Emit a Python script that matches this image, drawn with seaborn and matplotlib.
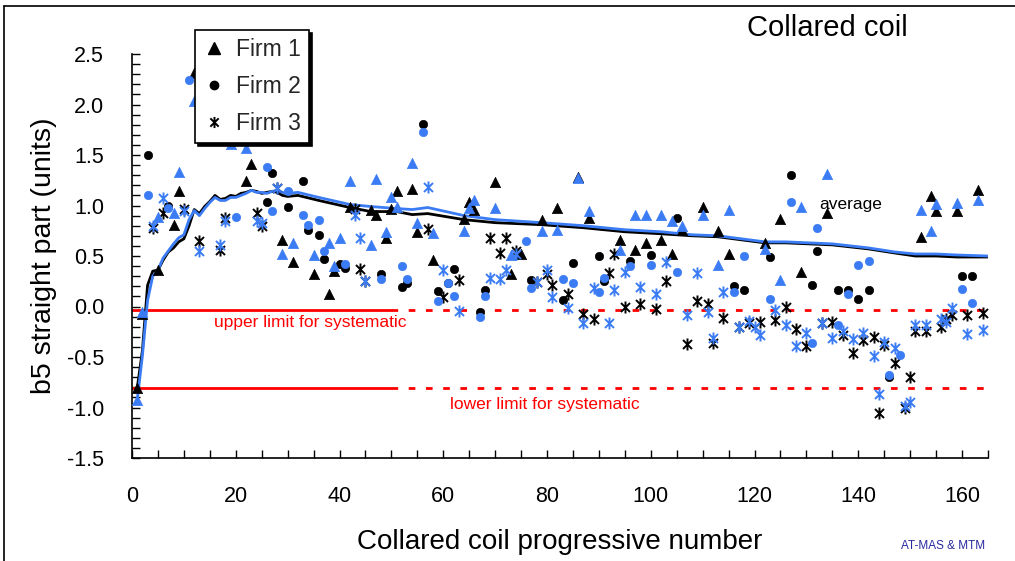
import numpy as np
import matplotlib
matplotlib.use("Agg")
import matplotlib.pyplot as plt
import seaborn as sns
from matplotlib.path import Path
from matplotlib.lines import Line2D
from matplotlib.ticker import MultipleLocator, FormatStrFormatter

sns.set_theme(style="white")
plt.rcParams['font.family'] = ['Liberation Sans', 'DejaVu Sans']
plt.rcParams['axes.unicode_minus'] = False

nan = np.nan

# ---- Firm 1 (triangles): coil number, first and second measurement of b5 ----
firm1_coil = [1, 2, 5, 8, 9, 12, 15, 19, 22, 23, 29, 31, 35, 38, 39, 40, 42, 46, 47, 49,
              50, 51, 54, 55, 58, 64, 65, 66, 70, 73, 75, 79, 82, 86, 88, 94, 97, 99, 102, 104,
              106, 110, 113, 115, 122, 125, 129, 134, 152, 154, 155, 159, 163]
firm1_black = [-0.81, -0.07, 0.36, 0.81, 1.14, 2.31, 1.66, nan, 1.24, 1.41, 0.66, 0.44, 0.32, 0.12, 0.35, nan, 0.99, 0.96, 0.91, 0.68,
               0.97, 1.14, 1.16, 0.74, 0.46, 0.87, 1.03, 0.96, 1.23, 0.32, 0.52, 0.86, 0.98, 1.28, 0.88, 0.66, 0.56, 0.63, 0.66, 0.52,
               0.76, 0.99, 0.75, 0.52, 0.63, 0.87, 0.34, 0.93, 0.69, 1.09, 0.95, 0.95, 1.15]
firm1_blue = [-0.93, -0.05, 0.89, 0.93, 1.33, 2.03, nan, 1.61, 1.57, nan, 0.52, 0.63, 0.51, 0.63, 0.40, 0.68, 1.24, 0.61, 1.26, 0.74,
              1.08, 0.99, 1.42, 0.83, 0.73, 0.75, 0.98, 1.05, 0.98, 0.51, nan, 0.75, 0.76, 1.27, 0.95, 0.56, 0.91, 0.91, 0.91, 0.85,
              0.80, 0.91, 0.41, 0.96, 0.57, 0.26, 0.99, 1.31, 0.96, 0.75, 1.01, 1.02, 1.05]

# ---- Firm 2 (circles) ----
firm2_coil = [3, 7, 11, 20, 26, 27, 30, 33, 34, 36, 37, 40, 41, 48, 52, 53, 56, 59, 61, 62,
              67, 68, 76, 77, 83, 85, 90, 91, 96, 100, 105, 116, 118, 123, 127, 131, 132, 136, 138, 140,
              142, 146, 148, 160, 162]
firm2_black = [1.50, 1.00, nan, nan, 1.03, 1.32, 0.99, 1.24, 0.76, 0.71, 0.47, 0.42, 0.38, 0.32, 0.19, 0.23, 1.81, 0.15, 0.23, 0.37,
               -0.05, 0.16, nan, 0.26, 0.06, 0.43, 0.50, 0.25, 0.45, 0.51, 0.88, 0.20, 0.16, 0.49, 1.30, 0.21, 0.55, 0.16, 0.16, 0.07,
               0.16, -0.70, nan, 0.30, 0.30]
firm2_blue = [1.10, 0.98, 2.24, 0.89, 1.38, 0.95, 1.14, 0.91, 0.81, 0.86, 0.55, nan, 0.42, 0.27, 0.40, 0.27, 1.73, 0.05, 0.23, 0.10,
              -0.10, 0.10, 0.65, 0.18, 0.27, 0.23, 0.14, 0.28, 0.40, 0.41, 0.34, 0.14, 0.50, 0.07, 1.03, -0.36, 0.78, -0.18, 0.12, 0.41,
              0.45, -0.68, -0.48, 0.17, 0.03]

# ---- Firm 3 (stars) ----
firm3_coil = [4, 6, 10, 13, 17, 18, 24, 25, 28, 43, 44, 45, 57, 60, 63, 69, 71, 72, 74, 78,
              80, 81, 84, 87, 89, 92, 93, 95, 98, 101, 103, 107, 109, 111, 112, 114, 117, 119, 120, 121,
              124, 126, 128, 130, 133, 135, 137, 139, 141, 143, 144, 145, 147, 149, 150, 151, 153, 156, 157, 158,
              161, 164]
firm3_black = [0.78, 0.93, 0.97, 0.65, 0.56, 0.88, 0.93, 0.80, 1.17, 0.97, 0.37, 0.25, 0.77, 0.09, 0.26, 0.68, 0.53, 0.68, 0.55, 0.24,
               0.32, 0.21, 0.12, -0.07, -0.12, 0.33, 0.52, 0.00, 0.02, -0.02, 0.25, -0.37, 0.05, 0.02, -0.36, -0.11, -0.20, -0.16, nan, -0.15,
               -0.13, 0.00, -0.22, -0.39, -0.16, -0.15, -0.28, -0.46, -0.33, -0.30, -1.05, -0.38, -0.56, -1.00, -0.70, -0.24, -0.24, -0.20, -0.12, -0.08,
               -0.08, -0.06]
firm3_blue = [0.80, 1.07, 0.95, 0.55, 0.61, 0.85, 0.85, 0.83, 1.17, 0.91, 0.68, 0.25, 1.18, 0.36, -0.04, 0.28, 0.27, 0.36, 0.52, 0.24,
              0.36, 0.09, -0.01, -0.16, 0.18, -0.16, 0.16, 0.34, 0.19, 0.12, 0.44, -0.08, 0.33, -0.05, -0.31, 0.14, -0.20, -0.14, -0.20, -0.28,
              -0.03, -0.18, -0.39, -0.26, -0.16, -0.31, -0.24, -0.32, -0.26, -0.49, -0.87, -0.35, -0.41, -0.99, -0.95, -0.18, -0.18, -0.12, -0.15, -0.01,
              -0.27, -0.23]

# ---- running average of all coils, both measurements ----
avg_coil = [1, 2, 3, 4, 5, 6, 7, 8, 9, 10, 11, 12, 13, 14, 15, 16, 17, 18, 19, 20,
            21, 22, 23, 24, 25, 26, 27, 28, 29, 30, 32, 36, 42, 46, 51, 54, 57, 64, 70, 79,
            87, 95, 102, 108, 113, 122, 126, 135, 142, 147, 151, 155, 159, 165]
avg_black = [-0.81, -0.44, 0.21, 0.35, 0.36, 0.46, 0.54, 0.58, 0.64, 0.67, 0.80, 0.96, 0.92, 0.99, 1.04, 1.10, 1.06, 1.07, 1.10, 1.09,
             1.12, 1.13, 1.15, 1.14, 1.12, 1.13, 1.14, 1.13, 1.10, 1.09, 1.10, 1.05, 0.98, 0.94, 0.94, 0.91, 0.92, 0.86, 0.83, 0.81,
             0.78, 0.74, 0.72, 0.70, 0.69, 0.63, 0.63, 0.61, 0.57, 0.53, 0.50, 0.50, 0.49, 0.49]
avg_blue = [-0.93, -0.49, 0.06, 0.30, 0.36, 0.48, 0.55, 0.62, 0.68, 0.71, 0.86, 0.95, 0.90, 0.97, 1.03, 1.08, 1.05, 1.05, 1.08, 1.08,
            1.10, 1.12, 1.15, 1.13, 1.13, 1.12, 1.14, 1.15, 1.13, 1.12, 1.13, 1.08, 1.01, 0.99, 0.97, 0.96, 0.98, 0.90, 0.86, 0.83,
            0.80, 0.76, 0.74, 0.71, 0.70, 0.64, 0.64, 0.62, 0.58, 0.54, 0.52, 0.52, 0.51, 0.50]

# ---- systematic limits ----
upper_limit = -0.03
lower_limit = -0.81
limit_solid_end = 50
coil_max = 165

firm_labels = ["Firm 1", "Firm 2", "Firm 3"]

BLUE = "#3b7cf4"
RED = "#ff0000"

# Excel-like star: vertical bar crossed by an X
star = Path([(0, -1), (0, 1), (-0.75, -0.75), (0.75, 0.75), (-0.75, 0.75), (0.75, -0.75)],
            [Path.MOVETO, Path.LINETO] * 3)

fig = plt.figure(figsize=(10.15, 5.61), dpi=100)
ax = fig.add_axes([132 / 1015, 1 - 458 / 561, (988 - 132) / 1015, (458 - 54) / 561])

# limit lines: solid up to coil 50, dotted afterwards
ax.plot([0, limit_solid_end], [upper_limit, upper_limit], color=RED, lw=2, zorder=2)
ax.plot([0, limit_solid_end], [lower_limit, lower_limit], color=RED, lw=2, zorder=2)
ax.plot([limit_solid_end, coil_max], [upper_limit, upper_limit], color=RED, lw=2,
        dashes=(2.4, 3.8), zorder=2)
ax.plot([limit_solid_end, coil_max], [lower_limit, lower_limit], color=RED, lw=2,
        dashes=(2.4, 3.8), zorder=2)

# running averages
sns.lineplot(x=avg_coil, y=avg_black, color="black", lw=2.0, ax=ax, zorder=3)
sns.lineplot(x=avg_coil, y=avg_blue, color=BLUE, lw=2.0, ax=ax, zorder=4)

# individual coils
series = [
    (firm1_coil, firm1_black, firm1_blue, "^", 55, 0.5),
    (firm2_coil, firm2_black, firm2_blue, "o", 36, 0.5),
    (firm3_coil, firm3_black, firm3_blue, star, 75, 1.4),
]
for coil, vb, vl, mk, size, lw in series:
    sns.scatterplot(x=coil, y=vb, marker=mk, s=size, color="black", edgecolor="black",
                    linewidth=lw, ax=ax, zorder=5)
for coil, vb, vl, mk, size, lw in series:
    sns.scatterplot(x=coil, y=vl, marker=mk, s=size, color=BLUE, edgecolor=BLUE,
                    linewidth=lw, ax=ax, zorder=6)

ax.set_xlim(0, coil_max)
ax.set_ylim(-1.5, 2.5)
ax.xaxis.set_major_locator(MultipleLocator(20))
ax.xaxis.set_minor_locator(MultipleLocator(5))
ax.yaxis.set_major_locator(MultipleLocator(0.5))
ax.yaxis.set_minor_locator(MultipleLocator(0.1))
ax.yaxis.set_major_formatter(FormatStrFormatter("%.1f"))
ax.tick_params(which="both", direction="in", length=6, width=1, color="black",
               labelsize=15.5, pad=20, labelcolor="black")
ax.tick_params(which="both", left=True, bottom=True)
for side in ["top", "right"]:
    ax.spines[side].set_visible(False)
for side in ["left", "bottom"]:
    ax.spines[side].set_color("black")
    ax.spines[side].set_linewidth(1.2)

ax.set_xlabel("Collared coil progressive number", fontsize=20, labelpad=16, color="black")
ax.set_ylabel("b5 straight part (units)", fontsize=20.5, labelpad=7, color="black")

ax.text(34.3, -0.16, "upper limit for systematic", color=RED, fontsize=12.5, ha="center", va="center")
ax.text(79.6, -0.97, "lower limit for systematic", color=RED, fontsize=12.5, ha="center", va="center")
ax.text(138.5, 1.01, "average", color="black", fontsize=12.5, ha="center", va="center")

fig.text(827 / 1015, 1 - 28 / 561, "Collared coil", fontsize=21, ha="center", va="center", color="black")
fig.text(985 / 1015, 1 - 546 / 561, "AT-MAS & MTM", fontsize=8.5, ha="right", va="center", color="#2a2aa0")

handles = [
    Line2D([], [], ls="none", marker="^", color="black", markersize=8),
    Line2D([], [], ls="none", marker="o", color="black", markersize=6),
    Line2D([], [], ls="none", marker=star, color="black", markersize=8, markeredgewidth=1.4),
]
leg = ax.legend(handles, firm_labels, loc="upper left", bbox_to_anchor=(195 / 1015, 1 - 30 / 561),
                bbox_transform=fig.transFigure, fontsize=16.5, frameon=True, fancybox=False,
                edgecolor="black", framealpha=1, borderpad=0.35, labelspacing=0.62,
                handlelength=1.0, handletextpad=0.45, borderaxespad=0,
                shadow={"color": "black", "alpha": 1})
leg.get_frame().set_linewidth(1.2)
leg.set_zorder(10)

# chart-area frame (left and top edges)
fig.add_artist(Line2D([4 / 1015, 4 / 1015], [0, 1 - 6 / 561], color="black", lw=1.2))
fig.add_artist(Line2D([4 / 1015, 1], [1 - 6 / 561, 1 - 6 / 561], color="black", lw=1.2))

fig.savefig("out.png", dpi=100)
